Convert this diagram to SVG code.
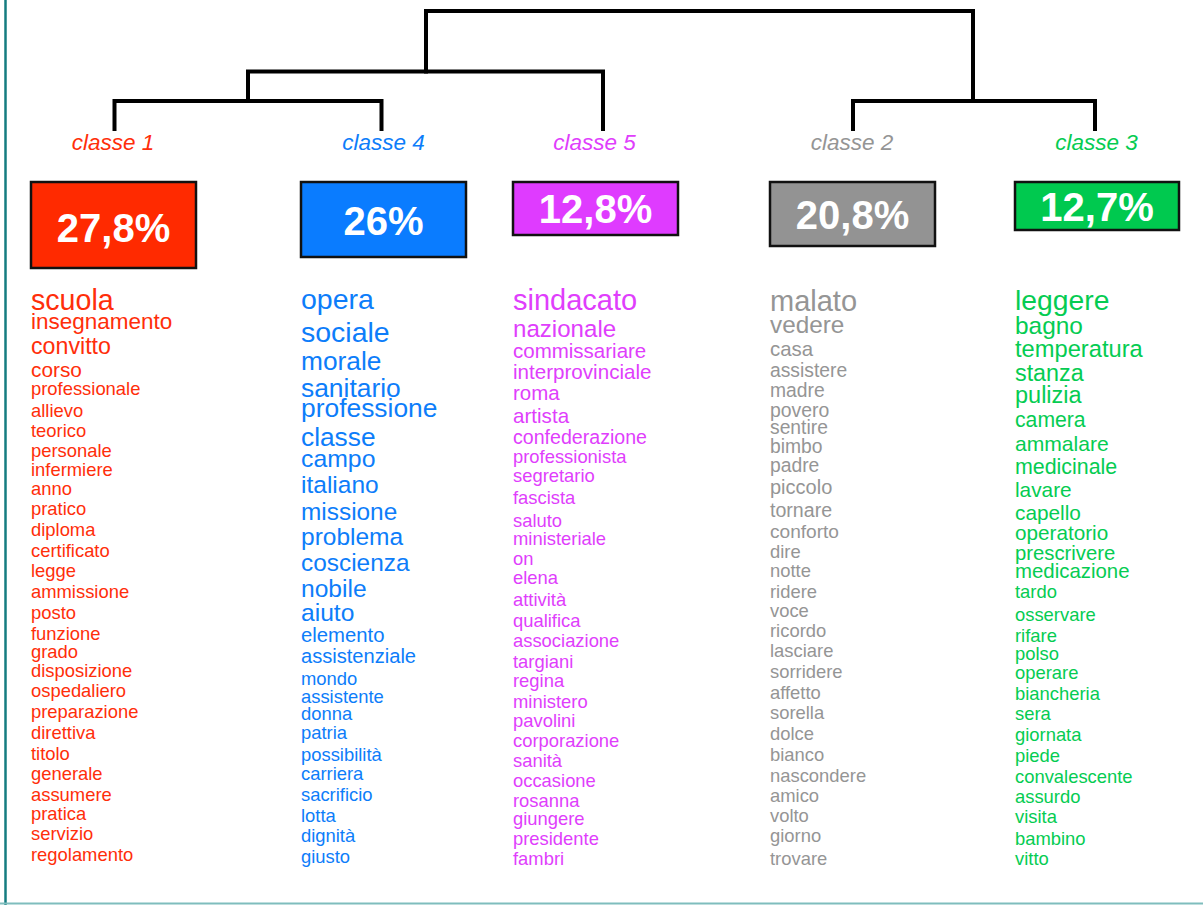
<svg xmlns="http://www.w3.org/2000/svg" width="1203" height="905" viewBox="0 0 1203 905">
<style>
text{font-family:"Liberation Sans",Arial,Helvetica,sans-serif}
.lbl{font-size:22.5px;font-style:italic;text-anchor:middle}
.pct{font-size:40px;font-weight:bold;fill:#fff;text-anchor:middle}
.box{stroke:#111;stroke-width:2.5}
.w{font-size:18.4px}
.c1{fill:#ff2e0a}.c4{fill:#0d7dfa}.c5{fill:#e03efc}.c2{fill:#959595}.c3{fill:#05cc52}
.dend{fill:none;stroke:#000;stroke-width:4;stroke-linecap:square;stroke-linejoin:miter}
</style>
<rect width="1203" height="905" fill="#fff"/>
<line x1="5.5" y1="0" x2="5.5" y2="905" stroke="#157c80" stroke-width="2.5"/>
<line x1="0" y1="903.5" x2="1203" y2="903.5" stroke="#7fbdbd" stroke-width="2"/>
<g id="connectors" class="dend">
<path d="M426 71.5 V11 H973 V101"/>
<path d="M248 101 V71.5 H603 V129"/>
<path d="M114.5 129 V101 H381.5 V129"/>
<path d="M853 129 V101 H1095 V129"/>
</g>
<g id="classe1">
<text class="lbl c1" x="113" y="150">classe 1</text>
<rect class="box" x="31" y="182" width="165" height="86" fill="#ff2a00"/>
<text class="pct" x="113.5" y="242">27,8%</text>
<g class="c1">
<text x="31" y="310" style="font-size:28.6px">scuola</text>
<text x="31" y="328.5" style="font-size:22.5px">insegnamento</text>
<text x="31" y="354" style="font-size:23.2px">convitto</text>
<text x="31" y="376.7" style="font-size:20.8px">corso</text>
<text class="w" x="31" y="395">professionale</text>
<text class="w" x="31" y="416.7">allievo</text>
<text class="w" x="31" y="437.3">teorico</text>
<text class="w" x="31" y="456.7">personale</text>
<text class="w" x="31" y="475.7">infermiere</text>
<text class="w" x="31" y="495">anno</text>
<text class="w" x="31" y="515">pratico</text>
<text class="w" x="31" y="536">diploma</text>
<text class="w" x="31" y="556.7">certificato</text>
<text class="w" x="31" y="576.7">legge</text>
<text class="w" x="31" y="598.3">ammissione</text>
<text class="w" x="31" y="619.3">posto</text>
<text class="w" x="31" y="640">funzione</text>
<text class="w" x="31" y="658.3">grado</text>
<text class="w" x="31" y="676.7">disposizione</text>
<text class="w" x="31" y="697.3">ospedaliero</text>
<text class="w" x="31" y="717.7">preparazione</text>
<text class="w" x="31" y="739.3">direttiva</text>
<text class="w" x="31" y="760">titolo</text>
<text class="w" x="31" y="780">generale</text>
<text class="w" x="31" y="800.7">assumere</text>
<text class="w" x="31" y="820">pratica</text>
<text class="w" x="31" y="840">servizio</text>
<text class="w" x="31" y="860.7">regolamento</text>
</g>
</g>
<g id="classe4">
<text class="lbl c4" x="383.5" y="150">classe 4</text>
<rect class="box" x="301" y="182" width="165" height="75" fill="#0a7cff"/>
<text class="pct" x="383.5" y="234.5">26%</text>
<g class="c4">
<text x="301" y="309.3" style="font-size:28.5px">opera</text>
<text x="301" y="341.7" style="font-size:28.5px">sociale</text>
<text x="301" y="370" style="font-size:26.3px">morale</text>
<text x="301" y="396.7" style="font-size:26.4px">sanitario</text>
<text x="301" y="417.3" style="font-size:26.4px">professione</text>
<text x="301" y="446" style="font-size:26.3px">classe</text>
<text x="301" y="466.7" style="font-size:24.8px">campo</text>
<text x="301" y="493.3" style="font-size:24.5px">italiano</text>
<text x="301" y="520" style="font-size:24.4px">missione</text>
<text x="301" y="545" style="font-size:24.5px">problema</text>
<text x="301" y="570.7" style="font-size:24.4px">coscienza</text>
<text x="301" y="596.7" style="font-size:24.6px">nobile</text>
<text x="301" y="620.7" style="font-size:24.6px">aiuto</text>
<text x="301" y="642.3" style="font-size:20.3px">elemento</text>
<text x="301" y="663.3" style="font-size:20.1px">assistenziale</text>
<text class="w" x="301" y="685">mondo</text>
<text class="w" x="301" y="702.7">assistente</text>
<text class="w" x="301" y="720">donna</text>
<text class="w" x="301" y="739.3">patria</text>
<text class="w" x="301" y="760.7">possibilità</text>
<text class="w" x="301" y="780">carriera</text>
<text class="w" x="301" y="800.7">sacrificio</text>
<text class="w" x="301" y="821.7">lotta</text>
<text class="w" x="301" y="841.7">dignità</text>
<text class="w" x="301" y="863.3">giusto</text>
</g>
</g>
<g id="classe5">
<text class="lbl c5" x="594.5" y="150">classe 5</text>
<rect class="box" x="513" y="182" width="165" height="53" fill="#df3bff"/>
<text class="pct" x="595.5" y="223">12,8%</text>
<g class="c5">
<text x="513" y="310" style="font-size:29px">sindacato</text>
<text x="513" y="336.7" style="font-size:24.1px">nazionale</text>
<text x="513" y="358.3" style="font-size:20.5px">commissariare</text>
<text x="513" y="379.3" style="font-size:20.6px">interprovinciale</text>
<text x="513" y="400" style="font-size:20.5px">roma</text>
<text x="513" y="422.7" style="font-size:20.6px">artista</text>
<text x="513" y="444" style="font-size:19.6px">confederazione</text>
<text class="w" x="513" y="462.7">professionista</text>
<text class="w" x="513" y="481.7">segretario</text>
<text class="w" x="513" y="504">fascista</text>
<text class="w" x="513" y="526.7">saluto</text>
<text class="w" x="513" y="545">ministeriale</text>
<text class="w" x="513" y="565">on</text>
<text class="w" x="513" y="584">elena</text>
<text class="w" x="513" y="606">attività</text>
<text class="w" x="513" y="626.7">qualifica</text>
<text class="w" x="513" y="647.3">associazione</text>
<text class="w" x="513" y="667.7">targiani</text>
<text class="w" x="513" y="687.3">regina</text>
<text class="w" x="513" y="708.3">ministero</text>
<text class="w" x="513" y="726.7">pavolini</text>
<text class="w" x="513" y="746.7">corporazione</text>
<text class="w" x="513" y="766.7">sanità</text>
<text class="w" x="513" y="786.7">occasione</text>
<text class="w" x="513" y="806.7">rosanna</text>
<text class="w" x="513" y="825">giungere</text>
<text class="w" x="513" y="845">presidente</text>
<text class="w" x="513" y="865">fambri</text>
</g>
</g>
<g id="classe2">
<text class="lbl c2" x="852" y="150">classe 2</text>
<rect class="box" x="770" y="182" width="165" height="64" fill="#939393"/>
<text class="pct" x="852.5" y="229">20,8%</text>
<g class="c2">
<text x="770" y="310.7" style="font-size:29px">malato</text>
<text x="770" y="333.3" style="font-size:24.3px">vedere</text>
<text x="770" y="356" style="font-size:20.4px">casa</text>
<text x="770" y="377.3" style="font-size:19.3px">assistere</text>
<text x="770" y="397.3" style="font-size:19.3px">madre</text>
<text x="770" y="416.7" style="font-size:19.4px">povero</text>
<text x="770" y="434" style="font-size:19.3px">sentire</text>
<text x="770" y="453.3" style="font-size:19.3px">bimbo</text>
<text x="770" y="471.7" style="font-size:19.3px">padre</text>
<text x="770" y="494" style="font-size:20px">piccolo</text>
<text x="770" y="516.7" style="font-size:19.6px">tornare</text>
<text x="770" y="538.3" style="font-size:19.1px">conforto</text>
<text class="w" x="770" y="558.3">dire</text>
<text class="w" x="770" y="577.3">notte</text>
<text class="w" x="770" y="598.3">ridere</text>
<text class="w" x="770" y="617.3">voce</text>
<text class="w" x="770" y="636.7">ricordo</text>
<text class="w" x="770" y="657.3">lasciare</text>
<text class="w" x="770" y="678.3">sorridere</text>
<text class="w" x="770" y="699.3">affetto</text>
<text class="w" x="770" y="719.3">sorella</text>
<text class="w" x="770" y="740">dolce</text>
<text class="w" x="770" y="760.7">bianco</text>
<text class="w" x="770" y="781.7">nascondere</text>
<text class="w" x="770" y="801.7">amico</text>
<text class="w" x="770" y="822.3">volto</text>
<text class="w" x="770" y="841.7">giorno</text>
<text class="w" x="770" y="865">trovare</text>
</g>
</g>
<g id="classe3">
<text class="lbl c3" x="1096.5" y="150">classe 3</text>
<rect class="box" x="1015" y="182" width="164" height="48" fill="#00c94f"/>
<text class="pct" x="1097" y="220.5">12,7%</text>
<g class="c3">
<text x="1015" y="310" style="font-size:28.3px">leggere</text>
<text x="1015" y="334" style="font-size:24.4px">bagno</text>
<text x="1015" y="357.3" style="font-size:23.7px">temperatura</text>
<text x="1015" y="380.7" style="font-size:23.3px">stanza</text>
<text x="1015" y="403.3" style="font-size:23.5px">pulizia</text>
<text x="1015" y="426.7" style="font-size:21.2px">camera</text>
<text x="1015" y="450.7" style="font-size:21.1px">ammalare</text>
<text x="1015" y="474" style="font-size:21.4px">medicinale</text>
<text x="1015" y="496.7" style="font-size:20.8px">lavare</text>
<text x="1015" y="520" style="font-size:20.8px">capello</text>
<text x="1015" y="540" style="font-size:20.7px">operatorio</text>
<text x="1015" y="560" style="font-size:20.3px">prescrivere</text>
<text x="1015" y="578.3" style="font-size:20.4px">medicazione</text>
<text class="w" x="1015" y="598.3">tardo</text>
<text class="w" x="1015" y="620.7">osservare</text>
<text class="w" x="1015" y="641.7">rifare</text>
<text class="w" x="1015" y="660">polso</text>
<text class="w" x="1015" y="679.3">operare</text>
<text class="w" x="1015" y="700">biancheria</text>
<text class="w" x="1015" y="720">sera</text>
<text class="w" x="1015" y="740.7">giornata</text>
<text class="w" x="1015" y="761.7">piede</text>
<text class="w" x="1015" y="782.7">convalescente</text>
<text class="w" x="1015" y="803.3">assurdo</text>
<text class="w" x="1015" y="823.3">visita</text>
<text class="w" x="1015" y="845">bambino</text>
<text class="w" x="1015" y="865">vitto</text>
</g>
</g>
</svg>
